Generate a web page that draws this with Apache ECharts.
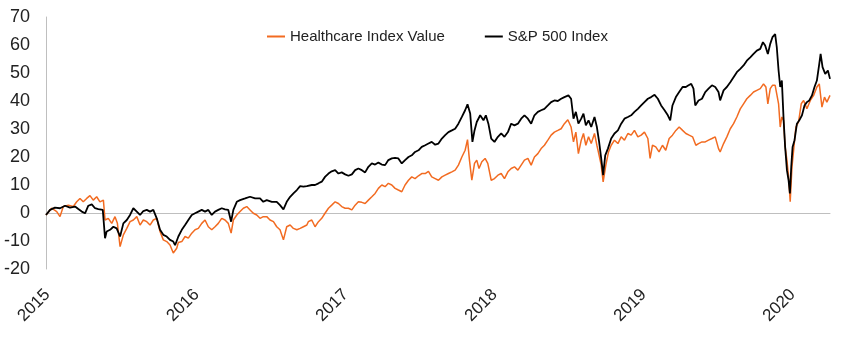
<!DOCTYPE html>
<html>
<head>
  <meta charset="utf-8">
  <title>Healthcare vs S&amp;P 500</title>
  <script src="https://cdn.jsdelivr.net/npm/echarts@6/dist/echarts.min.js"></script>
</head>
<body style="margin:0;background:#fff;">
<div id="main" style="width:850px;height:352px;"></div>
<script>
  // x = decimal year, y = cumulative return (%)
  var hcX = [2015.240,2015.278,2015.312,2015.334,2015.356,2015.390,2015.423,2015.446,2015.468,2015.490,2015.513,2015.535,2015.557,2015.580,2015.602,2015.625,2015.636,2015.658,2015.681,2015.703,2015.719,2015.737,2015.759,2015.782,2015.804,2015.826,2015.849,2015.871,2015.893,2015.916,2015.938,2015.960,2015.983,2016.005,2016.027,2016.050,2016.072,2016.094,2016.117,2016.128,2016.151,2016.173,2016.195,2016.218,2016.240,2016.262,2016.285,2016.307,2016.329,2016.352,2016.374,2016.396,2016.419,2016.441,2016.463,2016.482,2016.497,2016.520,2016.542,2016.564,2016.587,2016.609,2016.631,2016.654,2016.676,2016.698,2016.721,2016.743,2016.766,2016.788,2016.810,2016.833,2016.855,2016.878,2016.900,2016.923,2016.945,2016.967,2016.990,2017.000,2017.023,2017.045,2017.068,2017.090,2017.112,2017.135,2017.157,2017.180,2017.202,2017.224,2017.247,2017.269,2017.292,2017.314,2017.336,2017.359,2017.381,2017.403,2017.426,2017.448,2017.470,2017.493,2017.515,2017.537,2017.560,2017.582,2017.604,2017.627,2017.649,2017.672,2017.694,2017.716,2017.739,2017.761,2017.784,2017.806,2017.828,2017.851,2017.873,2017.896,2017.918,2017.940,2017.963,2017.985,2018.007,2018.030,2018.052,2018.068,2018.081,2018.097,2018.115,2018.130,2018.145,2018.164,2018.186,2018.204,2018.227,2018.249,2018.272,2018.294,2018.316,2018.339,2018.361,2018.383,2018.406,2018.428,2018.450,2018.473,2018.495,2018.517,2018.540,2018.562,2018.584,2018.607,2018.629,2018.651,2018.674,2018.696,2018.718,2018.741,2018.763,2018.779,2018.795,2018.812,2018.831,2018.846,2018.862,2018.880,2018.898,2018.920,2018.936,2018.951,2018.965,2018.978,2018.996,2019.014,2019.032,2019.054,2019.077,2019.099,2019.121,2019.144,2019.166,2019.188,2019.211,2019.233,2019.255,2019.278,2019.293,2019.309,2019.331,2019.353,2019.376,2019.398,2019.421,2019.443,2019.466,2019.488,2019.511,2019.533,2019.555,2019.578,2019.600,2019.618,2019.641,2019.663,2019.685,2019.708,2019.730,2019.752,2019.763,2019.786,2019.808,2019.831,2019.853,2019.875,2019.898,2019.920,2019.942,2019.965,2019.987,2020.009,2020.032,2020.054,2020.070,2020.083,2020.099,2020.114,2020.132,2020.143,2020.155,2020.166,2020.177,2020.188,2020.199,2020.211,2020.222,2020.233,2020.245,2020.256,2020.271,2020.289,2020.307,2020.323,2020.345,2020.368,2020.390,2020.412,2020.428,2020.446,2020.463,2020.479,2020.500];
  var hcY = [-0.7,1.7,0.5,-1.3,2.3,2.8,2.3,4,5.2,4,5.2,6.2,4.6,5.8,4,4.6,-2.5,-1.9,-3.7,-1.3,-3.7,-12,-7.8,-5.5,-3.1,-2.5,-1.3,-4.3,-2.5,-3.1,-4.3,-2.5,-1.9,-6.6,-9.6,-10.2,-11.4,-14.3,-12.6,-10.5,-10.2,-8.4,-9,-7.2,-6,-5.5,-3.7,-2.5,-4.9,-6,-4.9,-3.7,-1.9,-2.5,-3.7,-7.2,-2.5,-0.7,0.5,1.7,2.3,1.1,-0.1,-0.7,-1.9,-1.3,-1.3,-2.5,-3.1,-4.9,-6,-9.6,-4.9,-4.3,-5.5,-6,-5.5,-4.9,-4.3,-3.1,-2.5,-4.9,-3.1,-1.9,-0.1,1.7,2.8,4,3.4,2.3,1.7,1.7,1.1,2.8,4,3.8,3.4,4.6,5.8,7,8.8,10,9.4,10.6,10,8.8,8.2,7.6,10,11.7,12.9,12.3,13.3,14.1,14.1,14.9,12.9,12.3,11.7,12.9,13.5,14.1,14.7,15.3,17.1,20,22.4,26.2,18.9,11.7,17.7,18.9,15.9,18.3,19.5,17.7,11.7,12.3,13.5,14.1,12.3,14.7,15.9,16.5,15.3,17.1,18.9,19.5,17.1,20,21.2,23,24.2,26,27.8,28.9,29.5,30.1,31.9,33.3,30.7,25.4,28.9,21.2,26,28.4,24.2,27.2,24.8,28.4,24.2,20.6,17.1,11.1,17.1,21.8,24.2,26,24.8,27.2,26,28.4,27.8,29.5,27.2,27.8,28.9,26.6,19.5,24.2,23.6,21.8,24.2,22.4,26.6,27.8,29.5,30.7,29.5,28.4,27.8,27.2,24.2,24.8,25.4,25.4,26,26.6,27.2,23,21.8,24.8,27.2,30.1,31.9,34.3,37.2,39,40.8,42,43.2,43.8,44.4,46.1,45,39,44.4,45.6,45.6,45,39,30.7,34.3,33.1,23.6,18.9,12.9,4,16.5,22.4,30.7,32.5,39,40.2,37.2,40.2,42,45,46.1,37.8,41.4,39.6,42];

  var spX = [2015.240,2015.267,2015.300,2015.334,2015.368,2015.401,2015.435,2015.457,2015.480,2015.502,2015.524,2015.547,2015.569,2015.591,2015.621,2015.636,2015.647,2015.670,2015.692,2015.714,2015.737,2015.759,2015.782,2015.804,2015.826,2015.849,2015.871,2015.893,2015.916,2015.938,2015.960,2015.983,2016.005,2016.027,2016.050,2016.072,2016.094,2016.106,2016.128,2016.151,2016.173,2016.195,2016.218,2016.240,2016.262,2016.285,2016.307,2016.329,2016.352,2016.374,2016.396,2016.419,2016.441,2016.463,2016.482,2016.497,2016.520,2016.542,2016.576,2016.609,2016.643,2016.676,2016.698,2016.721,2016.755,2016.788,2016.810,2016.833,2016.855,2016.878,2016.900,2016.923,2016.945,2016.967,2016.990,2017.000,2017.023,2017.045,2017.068,2017.090,2017.112,2017.135,2017.157,2017.180,2017.202,2017.224,2017.247,2017.269,2017.292,2017.314,2017.336,2017.359,2017.381,2017.403,2017.426,2017.448,2017.470,2017.493,2017.515,2017.537,2017.560,2017.582,2017.604,2017.627,2017.649,2017.672,2017.694,2017.716,2017.739,2017.761,2017.784,2017.806,2017.828,2017.851,2017.873,2017.896,2017.918,2017.940,2017.963,2017.985,2018.007,2018.030,2018.052,2018.068,2018.086,2018.101,2018.115,2018.130,2018.153,2018.175,2018.191,2018.208,2018.227,2018.249,2018.272,2018.294,2018.316,2018.339,2018.361,2018.383,2018.406,2018.428,2018.450,2018.473,2018.495,2018.517,2018.540,2018.562,2018.584,2018.607,2018.629,2018.651,2018.674,2018.696,2018.718,2018.745,2018.763,2018.779,2018.795,2018.812,2018.831,2018.846,2018.862,2018.880,2018.898,2018.920,2018.936,2018.951,2018.965,2018.978,2018.992,2019.010,2019.032,2019.054,2019.077,2019.099,2019.121,2019.144,2019.166,2019.188,2019.211,2019.233,2019.255,2019.278,2019.300,2019.323,2019.345,2019.367,2019.390,2019.412,2019.428,2019.443,2019.466,2019.488,2019.511,2019.533,2019.551,2019.569,2019.584,2019.596,2019.618,2019.641,2019.663,2019.685,2019.708,2019.730,2019.752,2019.763,2019.786,2019.808,2019.831,2019.853,2019.875,2019.898,2019.920,2019.942,2019.965,2019.987,2020.009,2020.032,2020.050,2020.065,2020.083,2020.099,2020.114,2020.132,2020.143,2020.155,2020.166,2020.177,2020.188,2020.199,2020.211,2020.222,2020.231,2020.240,2020.249,2020.262,2020.278,2020.294,2020.312,2020.329,2020.345,2020.361,2020.379,2020.396,2020.412,2020.428,2020.437,2020.450,2020.468,2020.486,2020.500];
  var spY = [-0.7,1.1,1.9,1.7,2.6,1.9,2.3,1.4,0.5,-0.1,2.6,3.1,1.7,1.4,1.1,-9,-6.6,-6,-4.9,-5.5,-8.4,-3.7,-2.5,-0.7,1.7,0.5,-0.7,0.7,1.1,0.5,1.1,-1.9,-6,-7.8,-8.4,-9.6,-10.2,-11.5,-8.4,-6,-4.3,-2.5,-0.7,-0.1,0.5,1.1,0.5,1.1,-0.7,0.5,1.1,1.7,1.3,1.1,-3.1,1.1,4,4.6,5.2,5.8,5.2,5.2,4,4.6,4,4,2.8,1.3,4,5.8,7,8.2,9.6,9.4,9.6,9.4,10,10,10.6,11.2,12.9,14.1,14.9,15.3,14.1,14.5,13.8,13.3,13.8,15.3,15.9,15.3,14.5,16.5,17.7,17.3,18,17.3,17.1,18.9,19.5,19.7,19.5,17.7,18.9,20,20.6,21.8,22.4,23.6,24.2,24.8,25.4,24.4,24.8,26.6,27.8,28.9,29.5,30.1,31.9,34.3,36.7,38.8,35.5,25.4,29.5,32.5,34.9,33.1,34.9,31.9,26.6,25.4,27.2,28.4,27.2,28.9,31.9,31.3,31.9,33.7,34.9,33.7,31.9,34.9,36.1,36.7,37.2,38.4,39.6,40.2,40,40.8,41.4,42,40.8,33.7,36.1,31.9,33.7,35.5,31.3,33.1,30.7,34.3,30.7,25.4,19.5,13.5,20.6,23,26.6,28.4,29.5,31.9,33.7,34.3,34.9,36.1,37.2,38.4,39.6,40.8,41.4,42.2,40.8,38.4,36.7,34.9,33.1,38.4,41.4,43.2,45,45,45.6,46.1,44.4,38.4,40.2,40.8,43.2,44.4,45.6,45,43.2,40.2,43.8,45,46.7,48.5,50.3,51.5,52.7,54.4,55.6,56.8,58,58.6,61,59.8,56.8,60.4,62.8,63.9,59.2,50.9,45,47.3,34.3,23.6,15.3,11.7,7,16.5,23.6,26,31.9,33.1,34.9,38.4,39.6,40.2,42,45,47.3,53.3,56.8,52.1,49.7,50.9,47.9];

  var yearLabels = ['2015', '2016', '2017', '2018', '2019', '2020'];
  var yearLabelAt = [2015.25, 2016.25, 2017.25, 2018.25, 2019.25, 2020.25];

  function pairs(xs, ys) {
    var out = [];
    for (var i = 0; i < xs.length; i++) out.push([xs[i], ys[i]]);
    return out;
  }

  var myChart = echarts.init(document.getElementById('main'));
  var option = {
    animation: false,
    textStyle: { fontFamily: 'Liberation Sans, Arial, sans-serif' },
    grid: { left: 46, right: 20, top: 17, bottom: 83 },
    legend: {
      left: 262,
      top: 24,
      icon: 'rect',
      itemWidth: 18,
      itemHeight: 2,
      itemGap: 40,
      textStyle: { fontSize: 15, color: '#222' },
      data: ['Healthcare Index Value', 'S&P 500 Index']
    },
    xAxis: [
      {
        type: 'value',
        min: 2015.24,
        max: 2020.5,
        axisLine: { onZero: true, lineStyle: { color: '#bfbfbf', width: 1 } },
        axisTick: { show: false },
        axisLabel: { show: false },
        splitLine: { show: false }
      },
      {
        type: 'value',
        min: 2015.24,
        max: 2020.5,
        position: 'bottom',
        axisLine: { show: false, onZero: false },
        axisTick: { show: false },
        splitLine: { show: false },
        axisLabel: {
          customValues: yearLabelAt,
          rotate: 45,
          margin: 23,
          fontSize: 17,
          color: '#222',
          formatter: function (v) { return yearLabels[Math.floor(v) - 2015]; }
        }
      }
    ],
    yAxis: {
      type: 'value',
      min: -20,
      max: 70,
      interval: 10,
      axisLine: { show: true, lineStyle: { color: '#bfbfbf', width: 1 } },
      axisTick: { show: false },
      splitLine: { show: false },
      axisLabel: { fontSize: 18, color: '#222', margin: 16 }
    },
    series: [
      {
        name: 'Healthcare Index Value',
        type: 'line',
        xAxisIndex: 0,
        symbol: 'none',
        lineStyle: { color: '#F26B21', width: 1.5 },
        itemStyle: { color: '#F26B21' },
        data: pairs(hcX, hcY)
      },
      {
        name: 'S&P 500 Index',
        type: 'line',
        xAxisIndex: 0,
        symbol: 'none',
        lineStyle: { color: '#000000', width: 1.8 },
        itemStyle: { color: '#000000' },
        data: pairs(spX, spY)
      }
    ]
  };
  myChart.setOption(option);
</script>
</body>
</html>
